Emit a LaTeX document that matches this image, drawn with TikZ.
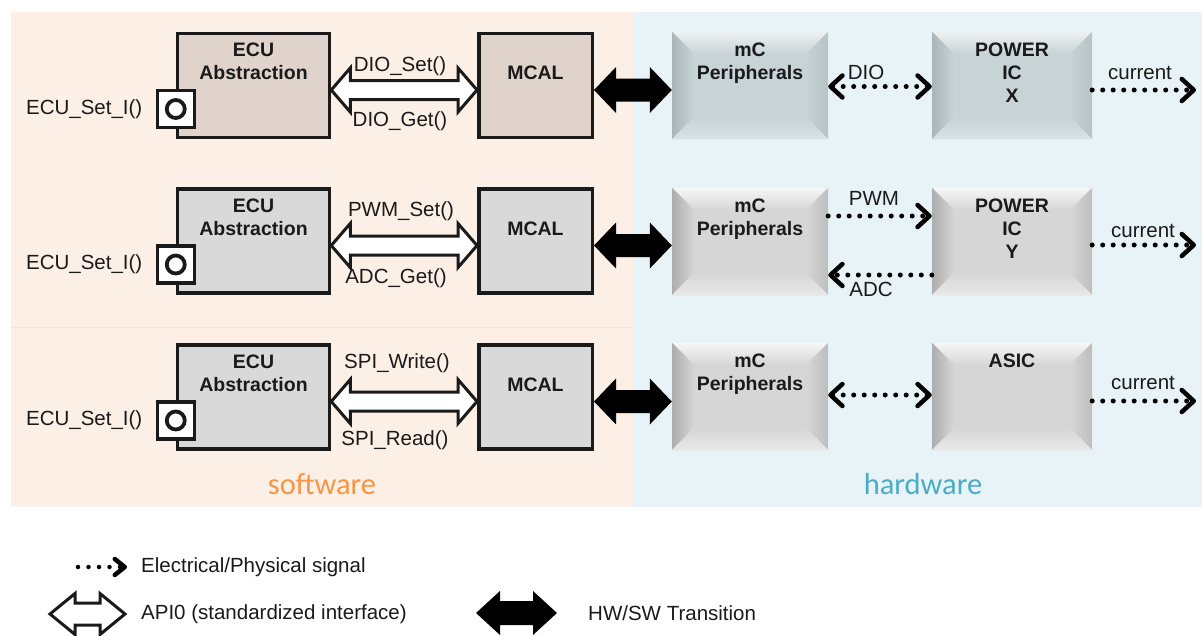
\documentclass[tikz,border=0pt]{standalone}
\usepackage{fontspec}
\setmainfont{Liberation Sans}
\newfontfamily\carlito{Carlito}
\usetikzlibrary{calc,arrows.meta}
\definecolor{swbg}{HTML}{FCEFE6}
\definecolor{hwbg}{HTML}{E7F3F6}
\definecolor{swline}{HTML}{F7E3D6}
\definecolor{boxA}{HTML}{DFD3CB}
\definecolor{boxB}{HTML}{D9D9D9}
\definecolor{edgec}{HTML}{1A1A1A}
\definecolor{hwAbase}{HTML}{C8D3D6}
\definecolor{hwAtop}{HTML}{EDF1F2}
\definecolor{hwAleft}{HTML}{A9B5B8}
\definecolor{hwAright}{HTML}{B7C2C5}
\definecolor{hwAbot}{HTML}{D9E1E3}
\definecolor{hwBbase}{HTML}{D6D6D6}
\definecolor{hwBtop}{HTML}{F6F6F6}
\definecolor{hwBleft}{HTML}{ADADAD}
\definecolor{hwBright}{HTML}{BEBEBE}
\definecolor{hwBbot}{HTML}{E8E8E8}
\definecolor{swtext}{HTML}{F79646}
\definecolor{hwtext}{HTML}{4BACC6}
\begin{document}
\begin{tikzpicture}[x=1pt,y=-1pt,
  swbox/.style={draw=edgec, line width=3.5pt, minimum height=104pt, inner sep=0pt},
  ecubox/.style={swbox, minimum width=152pt},
  mcalbox/.style={swbox, minimum width=113.5pt},
  port/.style={draw=edgec, fill=white, line width=3.5pt, minimum size=37pt, inner sep=0pt},
  portc/.style={circle, draw=edgec, fill=white, line width=3.8pt, minimum size=18pt, inner sep=0pt},
  btxt/.style={font=\fontsize{19.5}{23}\selectfont\bfseries, align=center, inner sep=0pt, text=edgec},
  ltxt/.style={font=\fontsize{20.5}{24}\selectfont, inner sep=0pt, text=edgec},
  bevel/.style n args={5}{fill=#1, inner sep=0pt, minimum height=107pt, path picture={
    \coordinate (bNW) at (path picture bounding box.north west);
    \coordinate (bNE) at (path picture bounding box.north east);
    \coordinate (bSW) at (path picture bounding box.south west);
    \coordinate (bSE) at (path picture bounding box.south east);
    \fill[top color=#2, bottom color=#1] (bNW) -- (bNE) -- ($(bNE)+(-22,22)$) -- ($(bNW)+(22,22)$) -- cycle;
    \fill[left color=#3, right color=#1] (bNW) -- ($(bNW)+(22,22)$) -- ($(bSW)+(22,-22)$) -- (bSW) -- cycle;
    \fill[left color=#1, right color=#4] (bNE) -- (bSE) -- ($(bSE)+(-22,-22)$) -- ($(bNE)+(-22,22)$) -- cycle;
    \fill[top color=#1, bottom color=#5] (bSW) -- ($(bSW)+(22,-22)$) -- ($(bSE)+(-22,-22)$) -- (bSE) -- cycle;
  }},
  hwA/.style={bevel={hwAbase}{hwAtop}{hwAleft}{hwAright}{hwAbot}},
  hwB/.style={bevel={hwBbase}{hwBtop}{hwBleft}{hwBright}{hwBbot}},
  fatpoly/.style n args={3}{to path={let \p1=(\tikztostart), \p2=(\tikztotarget) in
    (\x1,\y1) -- (\x1+#1,\y1+#2) -- (\x1+#1,\y1+#3) -- (\x2-#1,\y1+#3) -- (\x2-#1,\y1+#2) -- (\x2,\y1)
    -- (\x2-#1,\y1-#2) -- (\x2-#1,\y1-#3) -- (\x1+#1,\y1-#3) -- (\x1+#1,\y1-#2) -- cycle}},
  api/.style={draw=edgec, fill=white, line width=3pt, line join=miter},
  hwsw/.style={fill=black, draw=none},
  sig/.style={draw=black, line width=5pt, line cap=round, dash pattern=on 0pt off 10.5pt,
    >={Straight Barb[length=12pt,width=22pt,line width=4.5pt,round]}, ->},
  sigboth/.style={sig, <->},
  sigsmall/.style={draw=black, line width=4.5pt, line cap=round, dash pattern=on 0pt off 10.5pt,
    >={Straight Barb[length=10pt,width=16pt,line width=4.5pt,round]}, ->}
]
\useasboundingbox (0,0) rectangle (1202,635);
% panels
\fill[swbg] (11,12) rectangle (633,507);
\fill[hwbg] (633,12) rectangle (1202,507);
\draw[swline, line width=1pt] (11,327) -- (633,327);

% software boxes
\node[ecubox, fill=boxA] (ecu1) at (253.5,85.5) {};
\node[ecubox, fill=boxB] (ecu2) at (253.5,241) {};
\node[ecubox, fill=boxB] (ecu3) at (253.5,397) {};
\node[mcalbox, fill=boxA] (mcal1) at (535.5,85.5) {};
\node[mcalbox, fill=boxB] (mcal2) at (535.5,241) {};
\node[mcalbox, fill=boxB] (mcal3) at (535.5,397) {};
\node[btxt, anchor=north] (ecu1t) at ([yshift=-11pt]ecu1.north) {ECU\\Abstraction};
\node[btxt, anchor=north] (ecu2t) at ([yshift=-11pt]ecu2.north) {ECU\\Abstraction};
\node[btxt, anchor=north] (ecu3t) at ([yshift=-11pt]ecu3.north) {ECU\\Abstraction};
\node[btxt, anchor=north] (mcal1t) at ([yshift=-34pt]mcal1.north) {MCAL};
\node[btxt, anchor=north] (mcal2t) at ([yshift=-34pt]mcal2.north) {MCAL};
\node[btxt, anchor=north] (mcal3t) at ([yshift=-34pt]mcal3.north) {MCAL};

% ports
\foreach \i in {1,2,3}{
  \node[port] (port\i) at ($(ecu\i.west)+(0,23.5)$) {};
  \node[portc] (circ\i) at (port\i) {};
  \node[ltxt, anchor=east] (set\i) at ($(port\i.west)+(-13,0)$) {ECU\_Set\_I()};
}

% hardware boxes
\node[hwA, minimum width=156pt] (mc1) at (750,85.5) {};
\node[hwB, minimum width=156pt] (mc2) at (750,241.5) {};
\node[hwB, minimum width=156pt] (mc3) at (750,396.5) {};
\node[hwA, minimum width=160pt] (pic1) at (1012,85.5) {};
\node[hwB, minimum width=160pt] (pic2) at (1012,241.5) {};
\node[hwB, minimum width=160pt] (asic) at (1012,396.5) {};
\node[btxt, anchor=north] (mc1t) at ([yshift=-11pt]mc1.north) {mC\\Peripherals};
\node[btxt, anchor=north] (mc2t) at ([yshift=-11pt]mc2.north) {mC\\Peripherals};
\node[btxt, anchor=north] (mc3t) at ([yshift=-11pt]mc3.north) {mC\\Peripherals};
\node[btxt, anchor=north] (pic1t) at ([yshift=-11pt]pic1.north) {POWER\\IC\\X};
\node[btxt, anchor=north] (pic2t) at ([yshift=-11pt]pic2.north) {POWER\\IC\\Y};
\node[btxt, anchor=north] (asict) at ([yshift=-11pt]asic.north) {ASIC};

% API arrows
\draw[api, fatpoly={19pt}{22pt}{9.5pt}] ([yshift=-4.5pt]ecu1.east) to ([yshift=-4.5pt]mcal1.west);
\draw[api, fatpoly={19pt}{22pt}{9.5pt}] ([yshift=-4.5pt]ecu2.east) to ([yshift=-4.5pt]mcal2.west);
\draw[api, fatpoly={19pt}{22pt}{9.5pt}] ([yshift=-4.5pt]ecu3.east) to ([yshift=-4.5pt]mcal3.west);
\node[ltxt] (l1a) at (400,66) {DIO\_Set()};
\node[ltxt] (l1b) at (400,121) {DIO\_Get()};
\node[ltxt] (l2a) at (401,211) {PWM\_Set()};
\node[ltxt] (l2b) at (396,278) {ADC\_Get()};
\node[ltxt] (l3a) at (397,363) {SPI\_Write()};
\node[ltxt] (l3b) at (395,440) {SPI\_Read()};

% HW/SW arrows
\draw[hwsw, fatpoly={22pt}{23pt}{11.5pt}] ([yshift=-4.5pt]mcal1.east) to ([yshift=-4.5pt]mc1.west);
\draw[hwsw, fatpoly={22pt}{23pt}{11.5pt}] ([yshift=-4.5pt]mcal2.east) to ([yshift=-4.5pt]mc2.west);
\draw[hwsw, fatpoly={22pt}{23pt}{11.5pt}] ([yshift=-4.5pt]mcal3.east) to ([yshift=-4.5pt]mc3.west);

% signals
\draw[sigboth] ([yshift=-1pt]mc1.east) -- ([yshift=-1pt]pic1.west);
\node[ltxt] (dio) at (866,72) {DIO};
\draw[sig] ([yshift=25.5pt]mc2.east) -- ([yshift=25.5pt]pic2.west);
\node[ltxt] (pwm) at (874,198) {PWM};
\draw[sig] ([yshift=-33.5pt]pic2.west) -- ([yshift=-33.5pt]mc2.east);
\node[ltxt] (adc) at (871,289) {ADC};
\draw[sigboth] ([yshift=1.5pt]mc3.east) -- ([yshift=1.5pt]asic.west);

\coordinate (cur1) at (1196,90);
\coordinate (cur2) at (1196,245);
\coordinate (cur3) at (1196,401);
\draw[sig] ([yshift=-4.5pt]pic1.east) -- (cur1);
\draw[sig] ([yshift=-3.5pt]pic2.east) -- (cur2);
\draw[sig] ([yshift=-4.5pt]asic.east) -- (cur3);
\node[ltxt] (c1) at (1140,73) {current};
\node[ltxt] (c2) at (1143,231) {current};
\node[ltxt] (c3) at (1143,383) {current};

% panel titles
\node[font=\carlito\fontsize{30.5}{36}\selectfont, text=swtext, inner sep=0pt] (sw) at (322,484) {software};
\node[font=\carlito\fontsize{30.5}{36}\selectfont, text=hwtext, inner sep=0pt] (hw) at (923,484) {hardware};

% legend
\coordinate (lg1a) at (78,567);
\coordinate (lg1b) at (127,567);
\draw[sigsmall] (lg1a) -- (lg1b);
\node[ltxt, anchor=west] (lg1t) at (141,567) {Electrical/Physical signal};
\coordinate (lg2a) at (50,614);
\coordinate (lg2b) at (125,614);
\draw[api, fatpoly={25pt}{20.5pt}{11pt}] (lg2a) to (lg2b);
\node[ltxt, anchor=west] (lg2t) at (141,614) {API0 (standardized interface)};
\coordinate (lg3a) at (476,613);
\coordinate (lg3b) at (557,613);
\draw[hwsw, fatpoly={24pt}{22pt}{12pt}] (lg3a) to (lg3b);
\node[ltxt, anchor=west] (lg3t) at (588,613) {HW/SW Transition};
\end{tikzpicture}
\end{document}
